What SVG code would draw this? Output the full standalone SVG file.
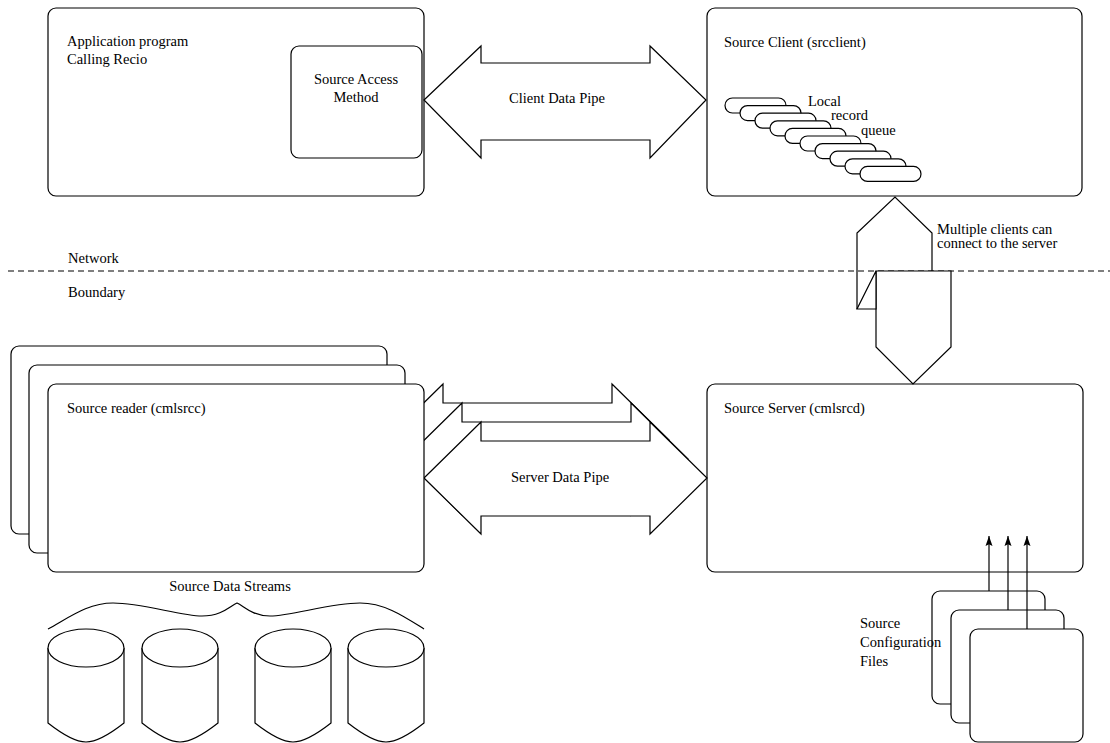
<svg xmlns="http://www.w3.org/2000/svg" width="1110" height="743" viewBox="0 0 1110 743" font-family="'Liberation Serif', 'Times New Roman', serif">
<defs>
<style>
.box{fill:#fff;stroke:#000;stroke-width:1.2}
.ln{fill:none;stroke:#000;stroke-width:1.2}
.wf{fill:#fff;stroke:#000;stroke-width:1.2;stroke-linejoin:miter}
text{font-family:'Liberation Serif','Times New Roman',serif;font-size:14.5px;fill:#000}
.c{text-anchor:middle}
</style>
<marker id="ah" viewBox="0 0 10 8" refX="10" refY="4" markerWidth="10" markerHeight="8" markerUnits="userSpaceOnUse" orient="auto">
<path d="M10,4 L0,0.5 L1.8,4 L0,7.5 Z" fill="#000"/>
</marker>
</defs>
<rect width="1110" height="743" fill="#fff"/>

<g id="network-boundary">
<line x1="8" y1="271" x2="1110" y2="271" class="ln" stroke-dasharray="6,4"/>
<text x="68" y="263">Network</text>
<text x="68" y="297">Boundary</text>
</g>

<g id="application">
<rect x="48" y="8" width="376" height="188" rx="8" class="box"/>
<text x="67" y="46">Application program</text>
<text x="67" y="64">Calling Recio</text>
</g>

<g id="source-access-method">
<rect x="291" y="46" width="131" height="112" rx="8" class="box"/>
<text x="356" y="84" class="c">Source Access</text>
<text x="356" y="102" class="c">Method</text>
</g>

<g id="source-client">
<rect x="707" y="8" width="375" height="188" rx="8" class="box"/>
<text x="724" y="47">Source Client (srcclient)</text>
</g>

<g id="local-record-queue">
<rect x="725" y="98" width="61" height="15" rx="7.5" class="box"/>
<rect x="740" y="105.6" width="61" height="15" rx="7.5" class="box"/>
<rect x="755" y="113.2" width="61" height="15" rx="7.5" class="box"/>
<rect x="770" y="120.8" width="61" height="15" rx="7.5" class="box"/>
<rect x="785" y="128.4" width="61" height="15" rx="7.5" class="box"/>
<rect x="800" y="136" width="61" height="15" rx="7.5" class="box"/>
<rect x="815" y="143.6" width="61" height="15" rx="7.5" class="box"/>
<rect x="830" y="151.2" width="61" height="15" rx="7.5" class="box"/>
<rect x="845" y="158.8" width="61" height="15" rx="7.5" class="box"/>
<rect x="860" y="166.4" width="61" height="15" rx="7.5" class="box"/>
<text x="808" y="106">Local</text>
<text x="831" y="120">record</text>
<text x="861" y="135">queue</text>
</g>

<g id="source-server">
<rect x="707" y="384" width="376" height="188" rx="8" class="box"/>
<text x="724" y="413">Source Server (cmlsrcd)</text>
</g>

<g id="config-files">
<rect x="932" y="591" width="113" height="113" rx="8" class="box"/>
<rect x="951" y="610" width="113" height="113" rx="8" class="box"/>
<rect x="970" y="629" width="113" height="113" rx="8" class="box"/>
<text x="860" y="628">Source</text>
<text x="860" y="647">Configuration</text>
<text x="860" y="666">Files</text>
</g>

<g id="source-data-streams">
<text x="230" y="591" class="c">Source Data Streams</text>
<path d="M48,629 C70,617 88,603 113,603 C143,603 180,616 202,616 C222,616 230,606 237,603 C244,606 252,616 270,616 C292,616 330,603 360,603 C385,603 405,617 424,629" class="ln"/>
<g id="cyl1">
<path d="M48,648 L48,723 C62,734 76,742 86,742 C96,742 110,734 124,723 L124,648" class="box"/>
<ellipse cx="86" cy="648" rx="38" ry="19" class="box"/>
</g>
<g id="cyl2">
<path d="M142,648 L142,723 C156,734 170,742 180,742 C190,742 204,734 218,723 L218,648" class="box"/>
<ellipse cx="180" cy="648" rx="38" ry="19" class="box"/>
</g>
<g id="cyl3">
<path d="M255,648 L255,723 C269,734 283,742 293,742 C303,742 317,734 331,723 L331,648" class="box"/>
<ellipse cx="293" cy="648" rx="38" ry="19" class="box"/>
</g>
<g id="cyl4">
<path d="M348,648 L348,723 C362,734 376,742 386,742 C396,742 410,734 424,723 L424,648" class="box"/>
<ellipse cx="386" cy="648" rx="38" ry="19" class="box"/>
</g>
</g>

<g id="connectors">
<g id="client-data-pipe">
<polygon points="424,100 481,46 481,63 650,63 650,46 706,100 650,158 650,140 481,140 481,158" class="wf"/>
<text x="557" y="103" class="c">Client Data Pipe</text>
</g>
<g id="server-data-pipe">
<polygon points="386,440 443,384 443,403 612,403 612,384 669,440 612,496 612,478 443,478 443,496" class="wf"/>
<polygon points="405,459 462,403 462,422 631,422 631,403 688,459 631,515 631,497 462,497 462,515" class="wf"/>
<polygon points="424,478 481,422 481,441 650,441 650,422 707,478 650,534 650,516 481,516 481,534" class="wf"/>
<text x="560" y="482" class="c">Server Data Pipe</text>
</g>
<g id="client-server-link">
<path d="M857,309 L857,233 L895,197 L932,233 L932,271" class="ln"/>
<polygon points="876,271 951,271 951,347 913,384 876,347" class="wf"/>
<polygon points="857,309 876,309 876,271" class="wf"/>
<text x="937" y="234">Multiple clients can</text>
<text x="937" y="248">connect to the server</text>
</g>
<g id="config-arrows">
<line x1="989" y1="591" x2="989" y2="536" class="ln" marker-end="url(#ah)"/>
<line x1="1008" y1="610" x2="1008" y2="536" class="ln" marker-end="url(#ah)"/>
<line x1="1027" y1="629" x2="1027" y2="536" class="ln" marker-end="url(#ah)"/>
</g>
</g>

<g id="source-reader">
<rect x="11" y="346" width="376" height="188" rx="8" class="box"/>
<rect x="29" y="365" width="376" height="188" rx="8" class="box"/>
<rect x="48" y="384" width="376" height="188" rx="8" class="box"/>
<text x="67" y="413">Source reader (cmlsrcc)</text>
</g>
</svg>
